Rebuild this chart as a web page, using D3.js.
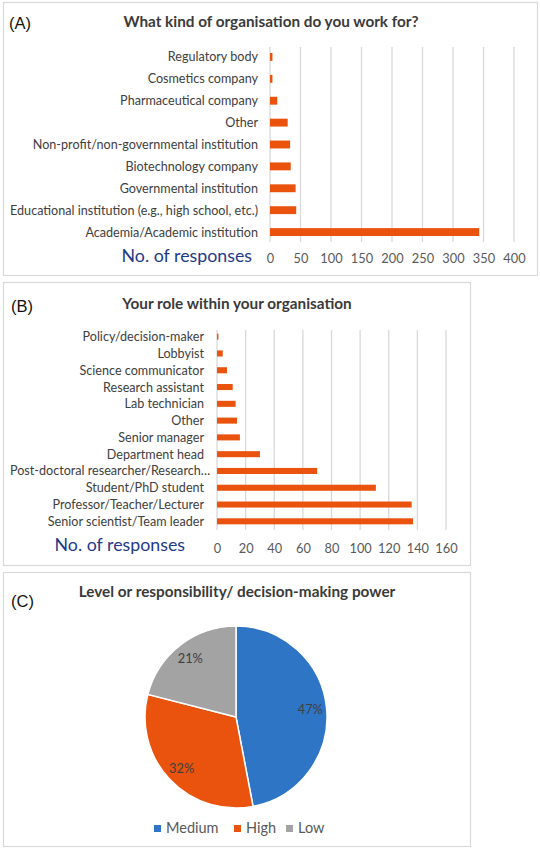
<!DOCTYPE html>
<html>
<head>
<meta charset="utf-8">
<script src="https://cdn.jsdelivr.net/npm/d3@7"></script>
<style>
  body { margin: 0; background: #fff; }
  svg { display: block; }
  text { font-family: Lato, "Open Sans", sans-serif; }
</style>
</head>
<body>
<svg id="chart" width="540" height="851"></svg>
<script>
// ---------- DATA ----------
const orgCategories = [
  "Regulatory body", "Cosmetics company", "Pharmaceutical company", "Other",
  "Non-profit/non-governmental institution", "Biotechnology company",
  "Governmental institution", "Educational institution (e.g., high school, etc.)",
  "Academia/Academic institution"
];
const orgValues = [4, 4, 12, 29, 33, 34, 42, 43, 343];
const orgTicks = [0, 50, 100, 150, 200, 250, 300, 350, 400];

const roleCategories = [
  "Policy/decision-maker", "Lobbyist", "Science communicator", "Research assistant",
  "Lab technician", "Other", "Senior manager", "Department head",
  "Post-doctoral researcher/Research…", "Student/PhD student",
  "Professor/Teacher/Lecturer", "Senior scientist/Team leader"
];
const roleValues = [1, 4, 7, 11, 13, 14, 16, 30, 70, 111, 136, 137];
const roleTicks = [0, 20, 40, 60, 80, 100, 120, 140, 160];

const levelCategories = ["Medium", "High", "Low"];
const levelValues = [47, 32, 21];
const levelColors = ["#2E75C6", "#E9530D", "#A3A3A3"];

const barColor = "#E9530D";
const gridColor = "#D9D9D9";

// ---------- DRAW ----------
const svg = d3.select("#chart");

function panelBox(x, y, w, h) {
  svg.append("rect").attr("x", x + 0.5).attr("y", y + 0.5)
    .attr("width", w).attr("height", h)
    .attr("fill", "#fff").attr("stroke", "#D9D9D9").attr("stroke-width", 1.2);
}
function panelTag(txt, x, y) {
  svg.append("text").attr("x", x).attr("y", y).text(txt)
    .style("font-family", "'Liberation Sans', Arial, sans-serif")
    .attr("font-size", 16.5).attr("fill", "#111");
}
function panelTitle(txt, x, y) {
  svg.append("text").attr("x", x).attr("y", y).text(txt)
    .attr("text-anchor", "middle").attr("font-weight", "bold")
    .attr("font-size", 15.3).attr("fill", "#3a3a3a");
}

function barPanel(cfg) {
  const x = d3.scaleLinear().domain([0, cfg.max]).range([cfg.x0, cfg.x1]);
  const y = d3.scaleBand().domain(cfg.cats).range([cfg.y0, cfg.y1]).paddingInner(cfg.pad).paddingOuter(cfg.pad / 2);
  const g = svg.append("g");
  // gridlines
  g.selectAll("line.grid").data(cfg.ticks).join("line")
    .attr("x1", d => x(d)).attr("x2", d => x(d))
    .attr("y1", cfg.gy0).attr("y2", cfg.gy1)
    .attr("stroke", gridColor).attr("stroke-width", 1.3);
  // bars
  g.selectAll("rect.bar").data(cfg.vals).join("rect")
    .attr("x", x(0)).attr("y", (d, i) => y(cfg.cats[i]))
    .attr("width", d => x(d) - x(0)).attr("height", y.bandwidth())
    .attr("fill", barColor);
  // category labels
  g.selectAll("text.cat").data(cfg.cats).join("text")
    .attr("x", d => d.endsWith("…") ? cfg.labelStart : cfg.labelX)
    .attr("text-anchor", d => d.endsWith("…") ? "start" : "end")
    .attr("y", d => y(d) + y.bandwidth() / 2)
    .attr("dy", "0.36em")
    .attr("font-size", cfg.labelSize).attr("fill", "#404040")
    .text(d => d);
  // x axis tick labels
  const axis = d3.axisBottom(x).tickValues(cfg.ticks).tickSize(0).tickPadding(0);
  const ag = g.append("g").attr("transform", `translate(0,${cfg.tickY})`).call(axis);
  ag.select(".domain").remove();
  ag.selectAll("text").attr("font-size", 12.8).attr("fill", "#595959")
    .attr("dy", 0).style("font-family", "Lato, sans-serif");
  // axis title
  g.append("text").attr("x", cfg.axTitleX).attr("y", cfg.axTitleY)
    .attr("text-anchor", "end").attr("font-size", 17.8).attr("fill", "#1F3A8A")
    .text("No. of responses");
}

// Panel A
panelBox(3, 2, 534, 273);
panelTag("(A)", 9, 29);
panelTitle("What kind of organisation do you work for?", 271, 27);
barPanel({
  cats: orgCategories, vals: orgValues, ticks: orgTicks, max: 400,
  x0: 270, x1: 514, y0: 46, y1: 243, pad: 0.64,
  gy0: 47, gy1: 242, tickY: 263, labelX: 258, labelStart: 10, labelSize: 12.6,
  axTitleX: 252, axTitleY: 262
});

// Panel B
panelBox(3, 282, 467, 283);
panelTag("(B)", 11, 312);
panelTitle("Your role within your organisation", 237, 309);
barPanel({
  cats: roleCategories, vals: roleValues, ticks: roleTicks, max: 160,
  x0: 217, x1: 446, y0: 328.3, y1: 529.7, pad: 0.64,
  gy0: 330, gy1: 530, tickY: 553, labelX: 204, labelStart: 10, labelSize: 12.6,
  axTitleX: 185, axTitleY: 551
});

// Panel C
panelBox(3, 572, 467, 274);
panelTag("(C)", 11, 607);
panelTitle("Level or responsibility/ decision-making power", 237, 597);

const cx = 236, cy = 717, r = 91;
const pie = d3.pie().sort(null).value(d => d)(levelValues);
const arc = d3.arc().innerRadius(0).outerRadius(r);
const pg = svg.append("g").attr("transform", `translate(${cx},${cy})`);
pg.selectAll("path").data(pie).join("path")
  .attr("d", arc).attr("fill", (d, i) => levelColors[i])
  .attr("stroke", "#fff").attr("stroke-width", 1.5);
const labelArc = d3.arc().innerRadius(r * 0.82).outerRadius(r * 0.82);
pg.selectAll("text").data(pie).join("text")
  .attr("transform", d => `translate(${labelArc.centroid(d)})`)
  .attr("text-anchor", "middle").attr("dy", "0.35em")
  .attr("font-size", 12.8).attr("fill", "#404040")
  .text(d => d.data + "%");

// Legend
const legendX = [154, 234, 286];
const lg = svg.append("g");
levelCategories.forEach((c, i) => {
  lg.append("rect").attr("x", legendX[i]).attr("y", 825).attr("width", 7).attr("height", 7)
    .attr("fill", levelColors[i]);
  lg.append("text").attr("x", legendX[i] + 12).attr("y", 833)
    .attr("font-size", 14.5).attr("fill", "#595959").text(c);
});
</script>
</body>
</html>
